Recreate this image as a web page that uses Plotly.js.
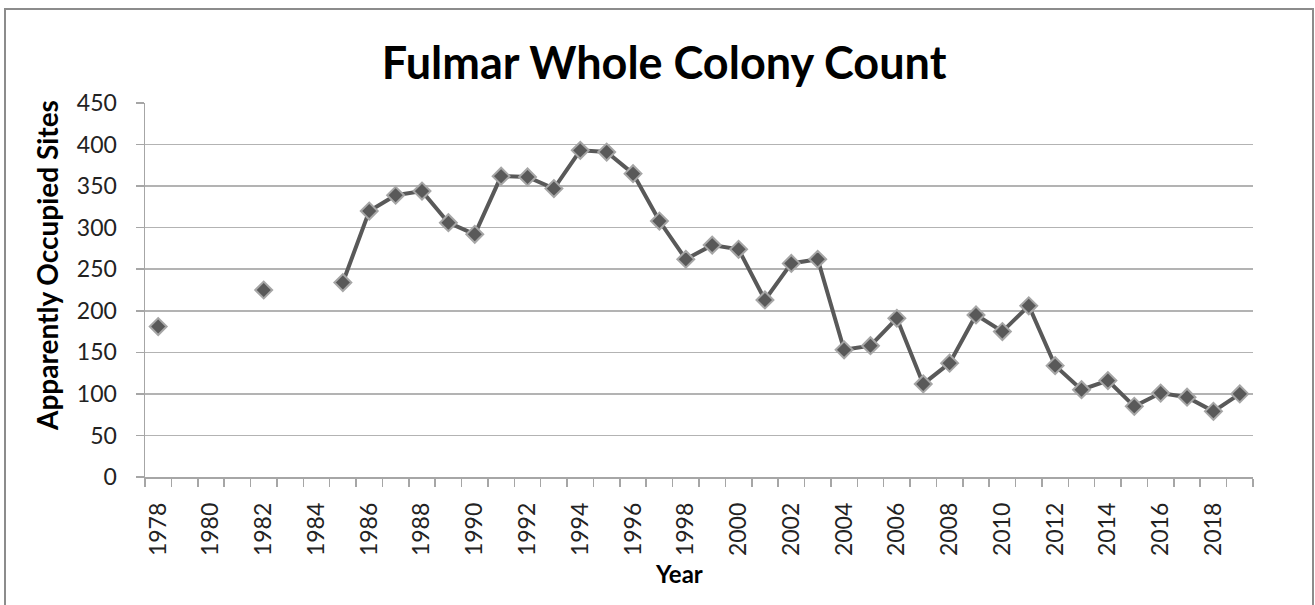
<!DOCTYPE html>
<html>
<head>
<meta charset="utf-8">
<script src="https://cdn.plot.ly/plotly-3.0.1.min.js"></script>
<style>
  html, body { margin: 0; padding: 0; background: #ffffff; }
  #chart { width: 1315px; height: 605px; }
</style>
</head>
<body>
<div id="chart"></div>
<script>
// ---- Data ----
const years = [1978, 1979, 1980, 1981, 1982, 1983, 1984, 1985, 1986, 1987, 1988, 1989, 1990,
               1991, 1992, 1993, 1994, 1995, 1996, 1997, 1998, 1999, 2000, 2001, 2002, 2003,
               2004, 2005, 2006, 2007, 2008, 2009, 2010, 2011, 2012, 2013, 2014, 2015, 2016,
               2017, 2018, 2019];
const occupiedSites = [181, null, null, null, 225, null, null, 234, 320, 339, 344, 306, 292,
                       362, 361, 347, 393, 391, 365, 308, 262, 279, 274, 213, 257, 262,
                       153, 158, 191, 112, 137, 195, 175, 206, 134, 105, 116, 85, 101,
                       96, 79, 100];
const labelYears = years.filter(y => y % 2 === 0);
const labelText = labelYears.map(String);

const chartTitle = "Fulmar Whole Colony Count";
const xTitle = "Year";
const yTitle = "Apparently Occupied Sites";

const FONT = "Lato, 'Open Sans', 'Liberation Sans', sans-serif";

const trace = {
  type: "scatter",
  mode: "lines+markers",
  x: years,
  y: occupiedSites,
  connectgaps: false,
  line: { color: "#595959", width: 4 },
  marker: {
    symbol: "diamond",
    size: 13,
    color: "#595959",
    line: { color: "#a6a6a6", width: 2 }
  },
  hoverinfo: "x+y",
  showlegend: false
};

// plot area in pixels: left 145, right 1253, top 103, bottom 477
const PW = 1108, PH = 374;

const layout = {
  width: 1315,
  height: 605,
  margin: { l: 145, r: 62, t: 103, b: 128 },
  paper_bgcolor: "#ffffff",
  plot_bgcolor: "#ffffff",
  font: { family: FONT, color: "#000000" },
  title: {
    text: "<b>" + chartTitle + "</b>",
    font: { family: FONT, size: 45, color: "#000000" },
    x: 0.505, xref: "container", xanchor: "center",
    y: 1 - 63 / 605, yref: "container", yanchor: "middle"
  },
  xaxis: {
    type: "linear",
    range: [years[0] - 0.5, years[years.length - 1] + 0.5],
    tickmode: "array",
    tickvals: labelYears,
    ticktext: labelText,
    tickangle: -90,
    ticks: "",
    showgrid: false,
    zeroline: false,
    showline: true,
    linecolor: "#a6a6a6",
    linewidth: 1.5,
    tickfont: { family: FONT, size: 23, color: "#222222" },
    ticklabelstandoff: 15,
    minor: {
      tickmode: "linear",
      tick0: years[0] - 0.5,
      dtick: 1,
      ticks: "outside",
      ticklen: 8,
      tickwidth: 1.5,
      tickcolor: "#a6a6a6",
      showgrid: false
    },
    fixedrange: true
  },
  yaxis: {
    range: [0, 450],
    tick0: 0,
    dtick: 50,
    ticks: "outside",
    ticklen: 8,
    tickwidth: 1.5,
    tickcolor: "#a6a6a6",
    showgrid: true,
    gridcolor: "#b3b3b3",
    gridwidth: 1.5,
    zeroline: false,
    showline: true,
    linecolor: "#a6a6a6",
    linewidth: 1.5,
    tickfont: { family: FONT, size: 23, color: "#222222" },
    ticklabelstandoff: 14,
    fixedrange: true
  },
  annotations: [
    {
      text: "<b>" + yTitle + "</b>",
      xref: "paper", yref: "paper",
      x: (47 - 145) / PW, y: (477 - 266) / PH,
      xanchor: "center", yanchor: "middle",
      textangle: -90,
      showarrow: false,
      font: { family: FONT, size: 28, color: "#000000" }
    },
    {
      text: "<b>" + xTitle + "</b>",
      xref: "paper", yref: "paper",
      x: (679 - 145) / PW, y: (477 - 573) / PH,
      xanchor: "center", yanchor: "middle",
      showarrow: false,
      font: { family: FONT, size: 24, color: "#000000" }
    }
  ],
  shapes: [{
    type: "rect",
    xref: "paper", yref: "paper",
    x0: (5 - 145) / PW, x1: (1313 - 145) / PW,
    y0: (477 - 640) / PH, y1: (477 - 9) / PH,
    line: { color: "#8c8c8c", width: 2 },
    fillcolor: "rgba(0,0,0,0)",
    layer: "below"
  }]
};

Plotly.newPlot("chart", [trace], layout, { displayModeBar: false, staticPlot: true });
</script>
</body>
</html>
